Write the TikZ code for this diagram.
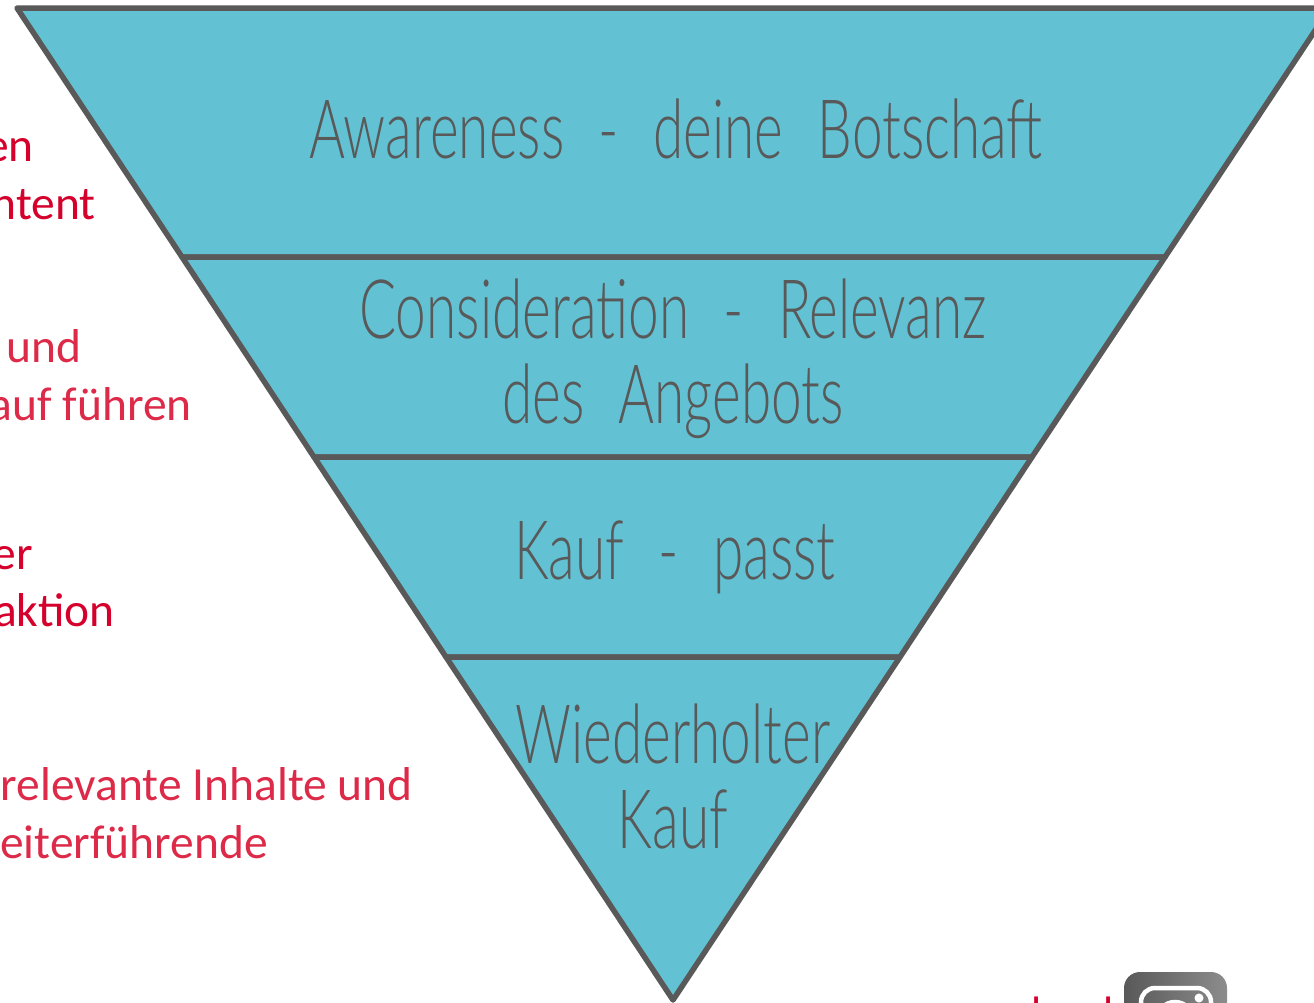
\documentclass[tikz,border=0pt]{standalone}
\usepackage{fontspec}
\setmainfont{Carlito}
\newfontfamily\handfont[FakeStretch=0.67,WordSpace=2.3]{Lato Light}
\definecolor{funnelblue}{HTML}{62C2D4}
\definecolor{funnelline}{HTML}{595959}
\definecolor{deepred}{HTML}{D5002B}
\definecolor{softred}{HTML}{DC2A48}
\tikzset{
	band/.style={draw=funnelline,fill=funnelblue,line width=5.5pt,line join=round},
	bandtext/.style={text=funnelline,font=\handfont\fontsize{82}{85}\selectfont,align=center,inner sep=0pt},
	sidetext/.style={font=\fontsize{47.5}{58}\selectfont,anchor=base east,inner sep=0pt},
}
\begin{document}
\begin{tikzpicture}[x=1pt,y=-1pt]
	\useasboundingbox (0,0) rectangle (1314,1002);
	\coordinate (tl) at (17,8);
	\coordinate (tr) at (1330,8);
	\coordinate (al) at (182,257);
	\coordinate (ar) at (1165,257);
	\coordinate (bl) at (314,457);
	\coordinate (br) at (1032,457);
	\coordinate (cl) at (446,657);
	\coordinate (cr) at (900,657);
	\coordinate (tip) at (673,1000);
	% funnel bands
	\draw[band] (tl)--(tr)--(ar)--(al)--cycle;
	\draw[band] (al)--(ar)--(br)--(bl)--cycle;
	\draw[band] (bl)--(br)--(cr)--(cl)--cycle;
	\draw[band] (cl)--(cr)--(tip)--cycle;
	\node[bandtext] (aware) at (676,129) {Awareness - deine Botschaft};
	\node[bandtext] (consider) at (673,359) {Consideration - Relevanz\\des Angebots};
	\node[bandtext] (kauf) at (675,557) {Kauf - passt};
	\node[bandtext] (wieder) at (673,776) {Wiederholter\\Kauf};
	% cut off texts on the left
	\node[sidetext,text=deepred] (lefta) at (34,161) {en};
	\node[sidetext,text=deepred] (leftb) at (96,219) {ntent};
	\node[sidetext,text=softred] (leftc) at (82,362) {und};
	\node[sidetext,text=softred] (leftd) at (192,420) {auf führen};
	\node[sidetext,text=deepred] (lefte) at (33,569) {er};
	\node[sidetext,text=deepred] (leftf) at (115,626) {aktion};
	\node[sidetext,text=softred] (leftg) at (413,800) {relevante Inhalte und};
	\node[sidetext,text=softred] (lefth) at (268,858) {eiterführende};
	% icon at the bottom
	\node[inner sep=0pt,anchor=north,text=deepred,font=\fontsize{44}{44}\selectfont] (rest) at (1073,997) {l\hspace{62pt}l};
	\shade[left color=funnelline,right color=gray!90,rounded corners=16pt] (1124,972) rectangle (1227,1040);
	\draw[white,line width=4.5pt,rounded corners=14pt] (1141,1040)--(1141,988)--(1211,988)--(1211,1040);
	\node[circle,draw=white,line width=4.5pt,minimum size=36pt,inner sep=0pt] (lens) at (1175,1020) {};
	\node[circle,fill=white,minimum size=9pt,inner sep=0pt] (dot) at (1199,998) {};
\end{tikzpicture}
\end{document}
